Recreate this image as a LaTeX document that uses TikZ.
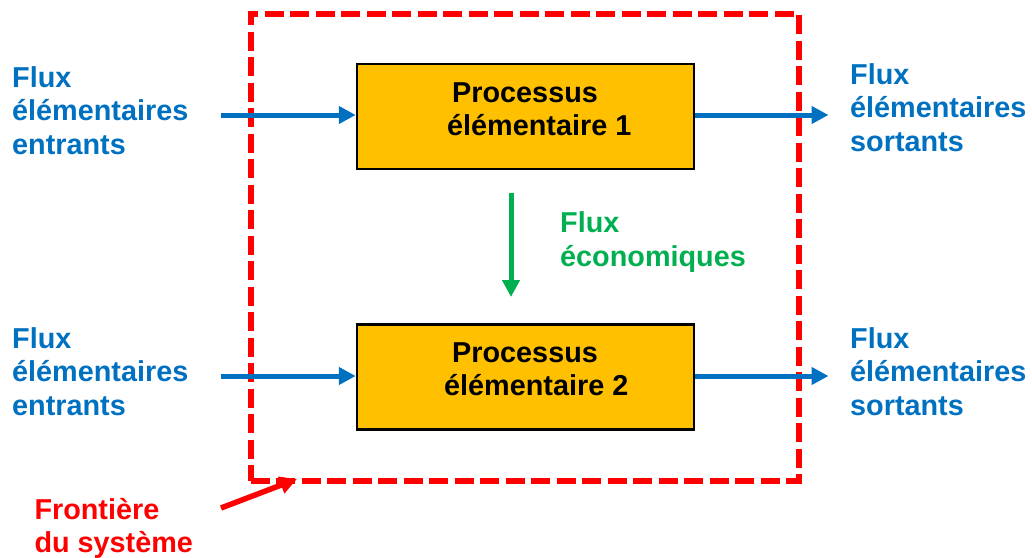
\documentclass[tikz,border=0pt]{standalone}
\usepackage{fontspec}
\setmainfont{Liberation Sans}
\usetikzlibrary{arrows.meta}

\definecolor{flowblue}{HTML}{0070C0}
\definecolor{flowgreen}{HTML}{00B050}
\definecolor{flowred}{HTML}{FF0000}
\definecolor{procfill}{HTML}{FFC000}

\tikzset{
  lbl/.style={inner sep=0pt, anchor=north west, align=left,
    font=\bfseries\fontsize{28.8}{33.5}\selectfont},
  bluelbl/.style={lbl, text=flowblue},
  procbox/.style={draw=black, line width=2.5pt, fill=procfill,
    minimum width=337pt, minimum height=105pt, inner sep=0pt},
  flowarrow/.style={line width=5pt,
    -{Triangle[length=17pt,width=17pt]}},
  boundary/.style={draw=flowred, line width=6pt,
    dash pattern=on 19pt off 6.5pt, inner sep=0pt,
    minimum width=548pt, minimum height=467pt},
}

\begin{document}
\begin{tikzpicture}[x=1pt, y=-1pt]
  \useasboundingbox (0,0) rectangle (1032,557);

  % system boundary
  \node[boundary] (sys) at (524.7,247.2) {};

  % elementary processes
  \node[procbox] (p1) at (525.5,116.5) {};
  \node[procbox] (p2) at (525.5,377) {};
  \node[lbl, text=black] (p1txt) at (447,82)
    {\hspace*{5pt}Processus\\élémentaire 1};
  \node[lbl, text=black] (p2txt) at (444,342)
    {\hspace*{8pt}Processus\\élémentaire 2};

  % flow labels
  \node[bluelbl] (in1lbl) at (12,66.3) {Flux\\élémentaires\\entrants};
  \node[bluelbl] (in2lbl) at (12,327.3) {Flux\\élémentaires\\entrants};
  \node[bluelbl] (out1lbl) at (850,63.3) {Flux\\élémentaires\\sortants};
  \node[bluelbl] (out2lbl) at (850,327.3) {Flux\\élémentaires\\sortants};
  \node[lbl, text=flowgreen] (ecolbl) at (560,211.5) {Flux\\économiques};
  \node[lbl, text=flowred] (syslbl) at (34.3,498) {Frontière\\du système};

  % arrow end points
  \coordinate (in1) at (221,115);
  \coordinate (in2) at (221,376);
  \coordinate (out1) at (828.5,115);
  \coordinate (out2) at (828.5,376);
  \coordinate (ecotop) at (511,193);
  \coordinate (ecobot) at (511,297);
  \coordinate (systail) at (221,508);
  \coordinate (syshead) at (297,479);

  % elementary flows
  \draw[flowarrow, flowblue] (in1) -- (in1 -| p1.west);
  \draw[flowarrow, flowblue] (in2) -- (in2 -| p2.west);
  \draw[flowarrow, flowblue] (out1 -| p1.east) -- (out1);
  \draw[flowarrow, flowblue] (out2 -| p2.east) -- (out2);

  % economic flow
  \draw[flowarrow, flowgreen] (ecotop) -- (ecobot);

  % pointer to the boundary
  \draw[flowarrow, flowred, line width=5.5pt] (systail) -- (syshead);
\end{tikzpicture}
\end{document}
